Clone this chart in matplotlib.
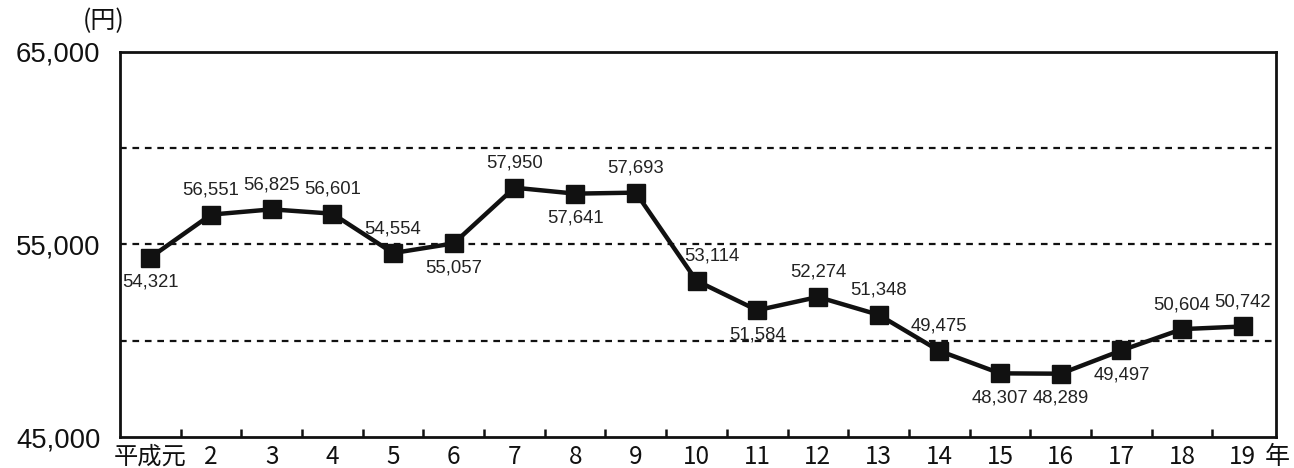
import matplotlib
matplotlib.use("Agg")
import matplotlib.pyplot as plt
from matplotlib.ticker import FixedLocator, NullFormatter

# 1人当たり金額の推移（平成元年〜19年）
years = ["平成元", "2", "3", "4", "5", "6", "7", "8", "9", "10",
         "11", "12", "13", "14", "15", "16", "17", "18", "19"]
values = [54321, 56551, 56825, 56601, 54554, 55057, 57950, 57641, 57693, 53114,
          51584, 52274, 51348, 49475, 48307, 48289, 49497, 50604, 50742]
# ラベルを点の上(1)・下(-1)どちらに置くか
label_side = [-1, 1, 1, 1, 1, -1, 1, -1, 1, 1,
              -1, 1, 1, 1, -1, -1, -1, 1, 1]
y_ticks = [45000, 55000, 65000]
grid_levels = [50000, 55000, 60000]

jp = ["Noto Sans CJK JP", "Liberation Sans", "DejaVu Sans"]
num = ["Liberation Sans", "DejaVu Sans"]

fig = plt.figure(figsize=(12.94, 4.68), dpi=100)
ax = fig.add_axes([0.0927, 0.0662, 0.8935, 0.8228])

x = list(range(len(years)))
for g in grid_levels:
    ax.axhline(g, color="#111111", lw=1.6, ls=(0, (3, 2.6)), zorder=1)

ax.plot(x, values, color="#111111", lw=3.2, marker="s", ms=12.5,
        mfc="#111111", mec="#111111", zorder=3)

for i, (v, s) in enumerate(zip(values, label_side)):
    dx = 0.25 if i == 9 else 0
    ax.annotate(f"{v:,}", (i + dx, v), xytext=(0, 11.5 * s), textcoords="offset points",
                ha="center", va="bottom" if s > 0 else "top",
                fontsize=13.3, family=num, color="#222222")

ax.set_xlim(-0.5, 18.55)
ax.set_ylim(45000, 65000)

ax.set_yticks(y_ticks)
ax.set_yticklabels([f"{t:,}" for t in y_ticks], family=num,
                   fontsize=19.8, color="#111111")
ax.tick_params(axis="y", length=0, pad=14)

ax.set_xticks(x)
ax.set_xticklabels(years, family=jp, fontsize=17.5, color="#111111")
ax.tick_params(axis="x", which="major", length=0, pad=5)
ax.xaxis.set_minor_locator(FixedLocator([i + 0.5 for i in range(len(years) - 1)]))
ax.xaxis.set_minor_formatter(NullFormatter())
ax.tick_params(axis="x", which="minor", direction="in", length=6, width=1.8, color="#111111")

for sp in ax.spines.values():
    sp.set_linewidth(2)
    sp.set_color("#111111")

fig.text(0.080, 0.955, "(円)", family=jp, fontsize=18, ha="center", va="center", color="#111111")
fig.text(0.997, -0.005, "年", family=jp, fontsize=18, ha="right", va="bottom", color="#111111")

fig.savefig("out.png", dpi=100, facecolor="white")
